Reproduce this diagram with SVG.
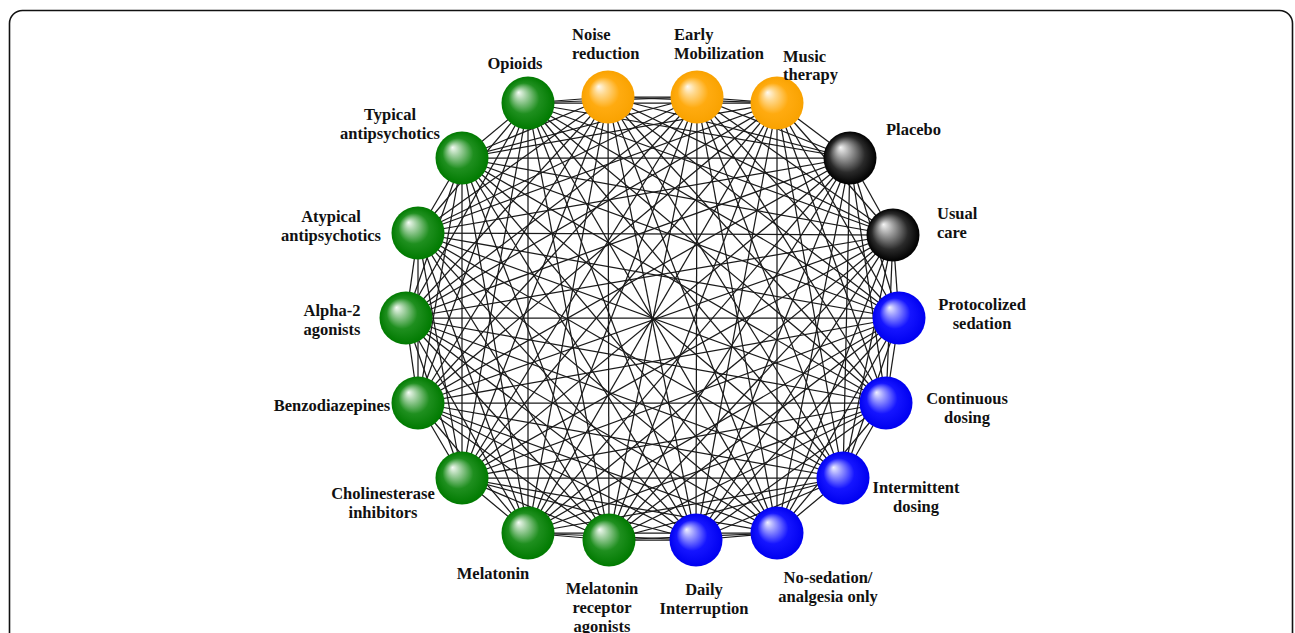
<svg xmlns="http://www.w3.org/2000/svg" width="1295" height="633" viewBox="0 0 1295 633">
<style>
.frame{fill:#fff;stroke:#111;stroke-width:1.6}
.edges line{stroke:#1a1a1a;stroke-width:1.25}
.lbl{font-family:"Liberation Serif","Times New Roman",serif;font-weight:bold;font-size:16.5px;fill:#111}
.c{text-anchor:middle}
.s{text-anchor:start}
</style>
<defs>
<radialGradient id="gGreen" cx="0.5" cy="0.5" r="0.5" fx="0.32" fy="0.3">
<stop offset="0" stop-color="#f4fbf4"/><stop offset="0.2" stop-color="#a9d4a9"/><stop offset="0.58" stop-color="#1f8f1f"/><stop offset="1" stop-color="#007a00"/>
</radialGradient>
<radialGradient id="gOrange" cx="0.5" cy="0.5" r="0.5" fx="0.32" fy="0.3">
<stop offset="0" stop-color="#fffaf0"/><stop offset="0.22" stop-color="#ffd98f"/><stop offset="0.58" stop-color="#ffab10"/><stop offset="1" stop-color="#f9a200"/>
</radialGradient>
<radialGradient id="gBlue" cx="0.5" cy="0.5" r="0.5" fx="0.32" fy="0.3">
<stop offset="0" stop-color="#f0f0ff"/><stop offset="0.22" stop-color="#9a9aff"/><stop offset="0.58" stop-color="#1515ff"/><stop offset="1" stop-color="#0000f0"/>
</radialGradient>
<radialGradient id="gBlack" cx="0.5" cy="0.5" r="0.5" fx="0.32" fy="0.3">
<stop offset="0" stop-color="#f5f5f5"/><stop offset="0.28" stop-color="#a0a0a0"/><stop offset="0.68" stop-color="#2a2a2a"/><stop offset="1" stop-color="#000"/>
</radialGradient>
</defs>
<rect class="frame" x="9.5" y="10.5" width="1283" height="650" rx="13"/>
<g id="connectors" class="edges">
<line x1="528" y1="103" x2="608" y2="97"/><line x1="528" y1="103" x2="697" y2="97"/><line x1="528" y1="103" x2="777" y2="103"/><line x1="528" y1="103" x2="850" y2="158"/><line x1="528" y1="103" x2="893" y2="235"/><line x1="528" y1="103" x2="899" y2="318"/><line x1="528" y1="103" x2="886" y2="403"/><line x1="528" y1="103" x2="843" y2="478"/><line x1="528" y1="103" x2="777" y2="533"/><line x1="528" y1="103" x2="696" y2="540"/><line x1="528" y1="103" x2="609" y2="540"/><line x1="528" y1="103" x2="528" y2="533"/><line x1="528" y1="103" x2="462" y2="478"/><line x1="528" y1="103" x2="418" y2="403"/><line x1="528" y1="103" x2="406" y2="318"/><line x1="528" y1="103" x2="418" y2="233"/><line x1="528" y1="103" x2="462" y2="158"/>
<line x1="608" y1="97" x2="697" y2="97"/><line x1="608" y1="97" x2="777" y2="103"/><line x1="608" y1="97" x2="850" y2="158"/><line x1="608" y1="97" x2="893" y2="235"/><line x1="608" y1="97" x2="899" y2="318"/><line x1="608" y1="97" x2="886" y2="403"/><line x1="608" y1="97" x2="843" y2="478"/><line x1="608" y1="97" x2="777" y2="533"/><line x1="608" y1="97" x2="696" y2="540"/><line x1="608" y1="97" x2="609" y2="540"/><line x1="608" y1="97" x2="528" y2="533"/><line x1="608" y1="97" x2="462" y2="478"/><line x1="608" y1="97" x2="418" y2="403"/><line x1="608" y1="97" x2="406" y2="318"/><line x1="608" y1="97" x2="418" y2="233"/><line x1="608" y1="97" x2="462" y2="158"/>
<line x1="697" y1="97" x2="777" y2="103"/><line x1="697" y1="97" x2="850" y2="158"/><line x1="697" y1="97" x2="893" y2="235"/><line x1="697" y1="97" x2="899" y2="318"/><line x1="697" y1="97" x2="886" y2="403"/><line x1="697" y1="97" x2="843" y2="478"/><line x1="697" y1="97" x2="777" y2="533"/><line x1="697" y1="97" x2="696" y2="540"/><line x1="697" y1="97" x2="609" y2="540"/><line x1="697" y1="97" x2="528" y2="533"/><line x1="697" y1="97" x2="462" y2="478"/><line x1="697" y1="97" x2="418" y2="403"/><line x1="697" y1="97" x2="406" y2="318"/><line x1="697" y1="97" x2="418" y2="233"/><line x1="697" y1="97" x2="462" y2="158"/>
<line x1="777" y1="103" x2="850" y2="158"/><line x1="777" y1="103" x2="893" y2="235"/><line x1="777" y1="103" x2="899" y2="318"/><line x1="777" y1="103" x2="886" y2="403"/><line x1="777" y1="103" x2="843" y2="478"/><line x1="777" y1="103" x2="777" y2="533"/><line x1="777" y1="103" x2="696" y2="540"/><line x1="777" y1="103" x2="609" y2="540"/><line x1="777" y1="103" x2="528" y2="533"/><line x1="777" y1="103" x2="462" y2="478"/><line x1="777" y1="103" x2="418" y2="403"/><line x1="777" y1="103" x2="406" y2="318"/><line x1="777" y1="103" x2="418" y2="233"/><line x1="777" y1="103" x2="462" y2="158"/>
<line x1="850" y1="158" x2="893" y2="235"/><line x1="850" y1="158" x2="899" y2="318"/><line x1="850" y1="158" x2="886" y2="403"/><line x1="850" y1="158" x2="843" y2="478"/><line x1="850" y1="158" x2="777" y2="533"/><line x1="850" y1="158" x2="696" y2="540"/><line x1="850" y1="158" x2="609" y2="540"/><line x1="850" y1="158" x2="528" y2="533"/><line x1="850" y1="158" x2="462" y2="478"/><line x1="850" y1="158" x2="418" y2="403"/><line x1="850" y1="158" x2="406" y2="318"/><line x1="850" y1="158" x2="418" y2="233"/><line x1="850" y1="158" x2="462" y2="158"/>
<line x1="893" y1="235" x2="899" y2="318"/><line x1="893" y1="235" x2="886" y2="403"/><line x1="893" y1="235" x2="843" y2="478"/><line x1="893" y1="235" x2="777" y2="533"/><line x1="893" y1="235" x2="696" y2="540"/><line x1="893" y1="235" x2="609" y2="540"/><line x1="893" y1="235" x2="528" y2="533"/><line x1="893" y1="235" x2="462" y2="478"/><line x1="893" y1="235" x2="418" y2="403"/><line x1="893" y1="235" x2="406" y2="318"/><line x1="893" y1="235" x2="418" y2="233"/><line x1="893" y1="235" x2="462" y2="158"/>
<line x1="899" y1="318" x2="886" y2="403"/><line x1="899" y1="318" x2="843" y2="478"/><line x1="899" y1="318" x2="777" y2="533"/><line x1="899" y1="318" x2="696" y2="540"/><line x1="899" y1="318" x2="609" y2="540"/><line x1="899" y1="318" x2="528" y2="533"/><line x1="899" y1="318" x2="462" y2="478"/><line x1="899" y1="318" x2="418" y2="403"/><line x1="899" y1="318" x2="406" y2="318"/><line x1="899" y1="318" x2="418" y2="233"/><line x1="899" y1="318" x2="462" y2="158"/>
<line x1="886" y1="403" x2="843" y2="478"/><line x1="886" y1="403" x2="777" y2="533"/><line x1="886" y1="403" x2="696" y2="540"/><line x1="886" y1="403" x2="609" y2="540"/><line x1="886" y1="403" x2="528" y2="533"/><line x1="886" y1="403" x2="462" y2="478"/><line x1="886" y1="403" x2="418" y2="403"/><line x1="886" y1="403" x2="406" y2="318"/><line x1="886" y1="403" x2="418" y2="233"/><line x1="886" y1="403" x2="462" y2="158"/>
<line x1="843" y1="478" x2="777" y2="533"/><line x1="843" y1="478" x2="696" y2="540"/><line x1="843" y1="478" x2="609" y2="540"/><line x1="843" y1="478" x2="528" y2="533"/><line x1="843" y1="478" x2="462" y2="478"/><line x1="843" y1="478" x2="418" y2="403"/><line x1="843" y1="478" x2="406" y2="318"/><line x1="843" y1="478" x2="418" y2="233"/><line x1="843" y1="478" x2="462" y2="158"/>
<line x1="777" y1="533" x2="696" y2="540"/><line x1="777" y1="533" x2="609" y2="540"/><line x1="777" y1="533" x2="528" y2="533"/><line x1="777" y1="533" x2="462" y2="478"/><line x1="777" y1="533" x2="418" y2="403"/><line x1="777" y1="533" x2="406" y2="318"/><line x1="777" y1="533" x2="418" y2="233"/><line x1="777" y1="533" x2="462" y2="158"/>
<line x1="696" y1="540" x2="609" y2="540"/><line x1="696" y1="540" x2="528" y2="533"/><line x1="696" y1="540" x2="462" y2="478"/><line x1="696" y1="540" x2="418" y2="403"/><line x1="696" y1="540" x2="406" y2="318"/><line x1="696" y1="540" x2="418" y2="233"/><line x1="696" y1="540" x2="462" y2="158"/>
<line x1="609" y1="540" x2="528" y2="533"/><line x1="609" y1="540" x2="462" y2="478"/><line x1="609" y1="540" x2="418" y2="403"/><line x1="609" y1="540" x2="406" y2="318"/><line x1="609" y1="540" x2="418" y2="233"/><line x1="609" y1="540" x2="462" y2="158"/>
<line x1="528" y1="533" x2="462" y2="478"/><line x1="528" y1="533" x2="418" y2="403"/><line x1="528" y1="533" x2="406" y2="318"/><line x1="528" y1="533" x2="418" y2="233"/><line x1="528" y1="533" x2="462" y2="158"/>
<line x1="462" y1="478" x2="418" y2="403"/><line x1="462" y1="478" x2="406" y2="318"/><line x1="462" y1="478" x2="418" y2="233"/><line x1="462" y1="478" x2="462" y2="158"/>
<line x1="418" y1="403" x2="406" y2="318"/><line x1="418" y1="403" x2="418" y2="233"/><line x1="418" y1="403" x2="462" y2="158"/>
<line x1="406" y1="318" x2="418" y2="233"/><line x1="406" y1="318" x2="462" y2="158"/>
<line x1="418" y1="233" x2="462" y2="158"/>
</g>
<g id="n-opioids"><circle cx="528" cy="103" r="26.5" fill="url(#gGreen)"/><text class="lbl c" x="515" y="69">Opioids</text></g>
<g id="n-noise"><circle cx="608" cy="97" r="26.5" fill="url(#gOrange)"/><text class="lbl s" x="572" y="40">Noise</text><text class="lbl s" x="572" y="59">reduction</text></g>
<g id="n-mobilization"><circle cx="697" cy="97" r="26.5" fill="url(#gOrange)"/><text class="lbl s" x="674" y="40">Early</text><text class="lbl s" x="674" y="59">Mobilization</text></g>
<g id="n-music"><circle cx="777" cy="103" r="26.5" fill="url(#gOrange)"/><text class="lbl s" x="783" y="62">Music</text><text class="lbl s" x="783" y="80">therapy</text></g>
<g id="n-placebo"><circle cx="850" cy="158" r="26.5" fill="url(#gBlack)"/><text class="lbl s" x="886" y="135">Placebo</text></g>
<g id="n-usual"><circle cx="893" cy="235" r="26.5" fill="url(#gBlack)"/><text class="lbl s" x="937" y="219">Usual</text><text class="lbl s" x="937" y="238">care</text></g>
<g id="n-protocolized"><circle cx="899" cy="318" r="26.5" fill="url(#gBlue)"/><text class="lbl c" x="982" y="310">Protocolized</text><text class="lbl c" x="982" y="329">sedation</text></g>
<g id="n-continuous"><circle cx="886" cy="403" r="26.5" fill="url(#gBlue)"/><text class="lbl c" x="967" y="404">Continuous</text><text class="lbl c" x="967" y="423">dosing</text></g>
<g id="n-intermittent"><circle cx="843" cy="478" r="26.5" fill="url(#gBlue)"/><text class="lbl c" x="916" y="493">Intermittent</text><text class="lbl c" x="916" y="512">dosing</text></g>
<g id="n-nosedation"><circle cx="777" cy="533" r="26.5" fill="url(#gBlue)"/><text class="lbl c" x="828" y="583">No-sedation/</text><text class="lbl c" x="828" y="602">analgesia only</text></g>
<g id="n-daily"><circle cx="696" cy="540" r="26.5" fill="url(#gBlue)"/><text class="lbl c" x="704" y="595">Daily</text><text class="lbl c" x="704" y="614">Interruption</text></g>
<g id="n-melrec"><circle cx="609" cy="540" r="26.5" fill="url(#gGreen)"/><text class="lbl c" x="602" y="594">Melatonin</text><text class="lbl c" x="602" y="613">receptor</text><text class="lbl c" x="602" y="632">agonists</text></g>
<g id="n-melatonin"><circle cx="528" cy="533" r="26.5" fill="url(#gGreen)"/><text class="lbl c" x="493" y="579">Melatonin</text></g>
<g id="n-cholinesterase"><circle cx="462" cy="478" r="26.5" fill="url(#gGreen)"/><text class="lbl c" x="383" y="499">Cholinesterase</text><text class="lbl c" x="383" y="518">inhibitors</text></g>
<g id="n-benzo"><circle cx="418" cy="403" r="26.5" fill="url(#gGreen)"/><text class="lbl c" x="332" y="411">Benzodiazepines</text></g>
<g id="n-alpha2"><circle cx="406" cy="318" r="26.5" fill="url(#gGreen)"/><text class="lbl c" x="332" y="316">Alpha-2</text><text class="lbl c" x="332" y="335">agonists</text></g>
<g id="n-atypical"><circle cx="418" cy="233" r="26.5" fill="url(#gGreen)"/><text class="lbl c" x="331" y="222">Atypical</text><text class="lbl c" x="331" y="241">antipsychotics</text></g>
<g id="n-typical"><circle cx="462" cy="158" r="26.5" fill="url(#gGreen)"/><text class="lbl c" x="390" y="120">Typical</text><text class="lbl c" x="390" y="139">antipsychotics</text></g>
</svg>
